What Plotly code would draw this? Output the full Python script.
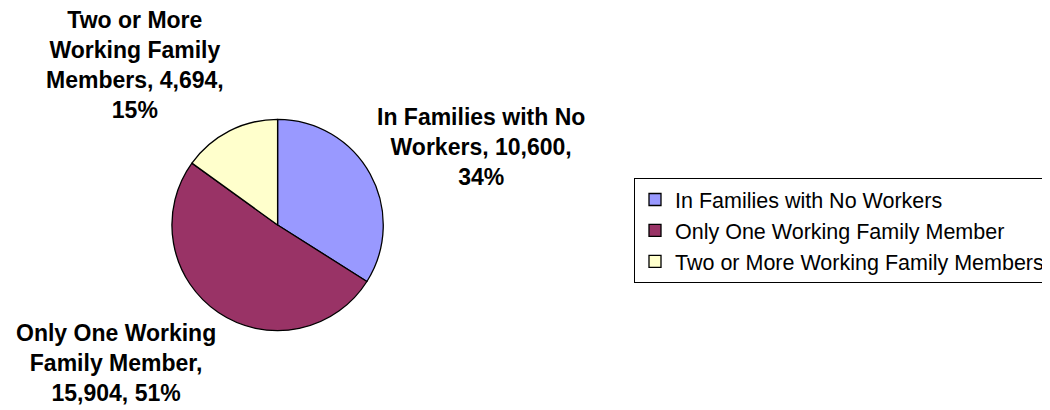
import plotly.graph_objects as go

# datos de la torta
categorias = ['In Families with No Workers',
              'Only One Working Family Member',
              'Two or More Working Family Members']
valores = [10600, 15904, 4694]
colores = ['#9999FF', '#993366', '#FFFFCC']

# etiquetas partidas como en el original (Excel las corta en varias lineas)
lineas_etiqueta = [
    ['In Families with No', 'Workers, {v},', '{p}%'],
    ['Only One Working', 'Family Member,', '{v}, {p}%'],
    ['Two or More', 'Working Family', 'Members, {v},', '{p}%'],
]

# la pagina html tiene 8px de margen en el body, se compensa
OFF = 8
W, H = 1050 - OFF, 410 - OFF
cx, cy, r = 281 - OFF, 225 - OFF, 107

# posicion (px, en la figura) y anclaje vertical de cada etiqueta
pos_etiqueta = [(487 - OFF, 147 - OFF, 'middle'),
                (117 - OFF, 408 - OFF, 'bottom'),
                (137 - OFF, 5 - OFF, 'top')]

fig = go.Figure()
fig.add_trace(go.Pie(
    labels=categorias, values=valores,
    marker=dict(colors=colores, line=dict(color='black', width=1.3)),
    sort=False, direction='clockwise', rotation=0,
    textinfo='none', hoverinfo='label+value+percent',
    domain=dict(x=[(cx - r) / W, (cx + r) / W],
                y=[(H - cy - r) / H, (H - cy + r) / H]),
))

total = sum(valores)
anotaciones = []
for lineas, v, (px_, py_, ya) in zip(lineas_etiqueta, valores, pos_etiqueta):
    p = round(v / total * 100)
    texto = '<br>'.join('<b>' + l.format(v=f'{v:,}', p=p) + '</b>' for l in lineas)
    anotaciones.append(dict(text=texto, x=px_ / W, y=1 - py_ / H, xref='paper', yref='paper',
                            xanchor='center', yanchor=ya, showarrow=False, align='center',
                            font=dict(family='Liberation Sans, Arial', size=23, color='black')))

fig.update_layout(
    width=W, height=H,
    margin=dict(l=0, r=0, t=0, b=0),
    paper_bgcolor='white', plot_bgcolor='white',
    font=dict(family='Liberation Sans, Arial', color='black'),
    annotations=anotaciones,
    legend=dict(x=(642 - OFF) / W, y=1 - (178 - OFF) / H, xanchor='left', yanchor='top',
                bordercolor='black', borderwidth=1, bgcolor='white',
                font=dict(size=21.5, color='black'), traceorder='normal',
                itemwidth=30, tracegroupgap=0),
)

fig.write_html("out.html")
